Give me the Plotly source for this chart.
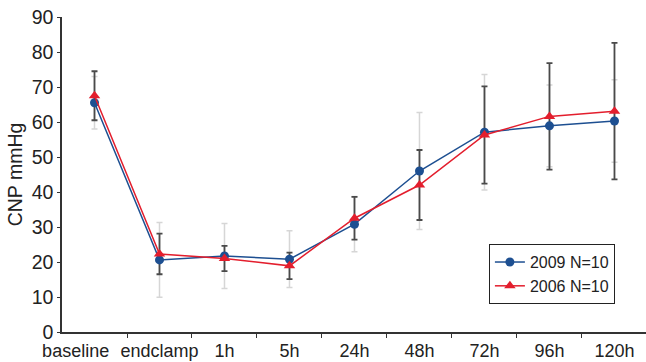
import plotly.graph_objects as go

categories = ["baseline", "endclamp", "1h", "5h", "24h", "48h", "72h", "96h", "120h"]
tick_labels = ["baseline", "endclamp", "1h", "5h", "24h", "48h", "72h", "96h", "120h"]

series_2009_name = "2009 N=10"
series_2009 = [65.5, 20.6, 21.7, 20.8, 30.8, 46.0, 57.1, 58.9, 60.3]
series_2009_err = [7.5, 10.7, 9.3, 8.1, 7.9, 16.7, 16.5, 11.7, 11.8]

series_2006_name = "2006 N=10"
series_2006 = [67.5, 22.3, 21.0, 18.9, 32.5, 42.0, 56.3, 61.6, 63.1]
series_2006_err = [7.0, 5.8, 3.6, 3.8, 6.1, 10.0, 13.9, 15.2, 19.5]

x = list(range(len(categories)))
FONT = "Liberation Sans, Arial, sans-serif"
BLUE = "#1d4f91"
RED = "#e31e2d"

fig = go.Figure()
# error bars (blue series: light grey, red series: dark grey)
fig.add_trace(go.Scatter(
    x=x, y=series_2009, mode="markers", marker=dict(size=0.1, opacity=0),
    error_y=dict(type="data", array=series_2009_err, color="#d6d6d6", thickness=1.5, width=3),
    showlegend=False, hoverinfo="skip"))
fig.add_trace(go.Scatter(
    x=x, y=series_2006, mode="markers", marker=dict(size=0.1, opacity=0),
    error_y=dict(type="data", array=series_2006_err, color="#4a4a4a", thickness=1.8, width=3),
    showlegend=False, hoverinfo="skip"))
fig.add_trace(go.Scatter(
    x=x, y=series_2009, mode="lines+markers", name=series_2009_name,
    line=dict(color=BLUE, width=1.5),
    marker=dict(symbol="circle", size=9, color=BLUE)))
fig.add_trace(go.Scatter(
    x=x, y=series_2006, mode="lines+markers", name=series_2006_name,
    line=dict(color=RED, width=1.5),
    marker=dict(symbol="triangle-up", size=10, color=RED)))

# label positions: the first label sits a little left of its point, as in the source
label_pos = [x[0] - 0.29] + x[1:]

fig.update_layout(
    width=646, height=362,
    margin=dict(l=62, r=0, t=17, b=30),
    paper_bgcolor="white", plot_bgcolor="white",
    font=dict(family=FONT, size=18, color="#222222"),
    showlegend=True,
    legend=dict(
        x=0.731, y=0.279, xanchor="left", yanchor="top",
        bordercolor="#222222", borderwidth=1, bgcolor="white",
        font=dict(family=FONT, size=16, color="#222222"),
        tracegroupgap=0, itemwidth=30),
    xaxis=dict(
        range=[-0.5, 8.485], tickmode="array", tickvals=label_pos, ticktext=tick_labels,
        tickangle=0, automargin=False, ticklabeloverflow="allow", ticklabelstandoff=2,
        ticks="", showgrid=False, zeroline=False,
        showline=True, linecolor="#333333", linewidth=1.5,
        tickfont=dict(family=FONT, size=18, color="#222222"),
        minor=dict(tickmode="array", tickvals=[i + 0.5 for i in x[:-1]],
                   ticks="outside", ticklen=4, tickcolor="#333333", tickwidth=1, showgrid=False),
    ),
    yaxis=dict(
        range=[0, 90], tickmode="linear", tick0=0, dtick=10, automargin=False,
        ticklabeloverflow="allow",
        ticks="outside", ticklen=3, tickcolor="#333333", tickwidth=1,
        showgrid=False, zeroline=False,
        showline=True, linecolor="#333333", linewidth=1.5,
        tickfont=dict(family=FONT, size=19.5, color="#222222"),
        title=dict(text="CNP mmHg", font=dict(family=FONT, size=19.5, color="#222222"), standoff=4),
    ),
)

fig.write_html("out.html", config={"displayModeBar": False},
               post_script="document.body.style.margin='0';")
